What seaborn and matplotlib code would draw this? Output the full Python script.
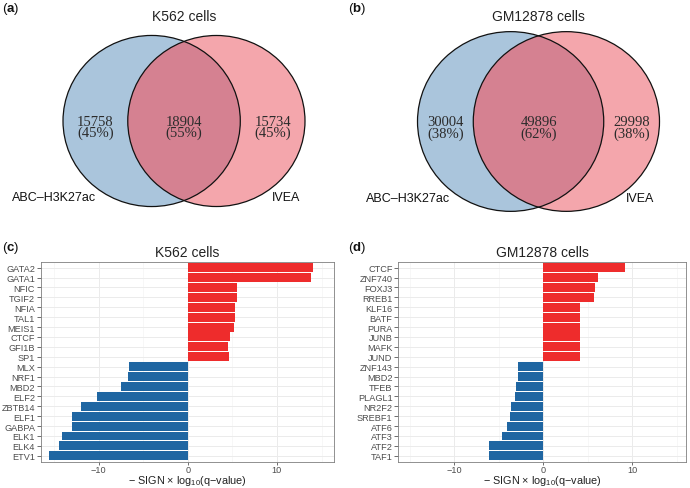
import numpy as np
import pandas as pd
import matplotlib
matplotlib.use('Agg')
import matplotlib.pyplot as plt
from matplotlib.patches import Ellipse
import seaborn as sns

# Venn counts (only A, both, only B)
k562_venn = [15758, 18904, 15734]
gm_venn = [30004, 49896, 29998]
set_names = ['ABC\u2013H3K27ac', 'IVEA']

# TF enrichment, -SIGN x log10(q-value)
k562_tf = ['GATA2', 'GATA1', 'NFIC', 'TGIF2', 'NFIA', 'TAL1', 'MEIS1', 'CTCF', 'GFI1B', 'SP1',
           'MLX', 'NRF1', 'MBD2', 'ELF2', 'ZBTB14', 'ELF1', 'GABPA', 'ELK1', 'ELK4', 'ETV1']
k562_val = [14.1, 13.85, 5.57, 5.5, 5.3, 5.3, 5.17, 4.75, 4.5, 4.63,
            -6.6, -6.74, -7.5, -10.2, -12.0, -12.97, -13.0, -14.1, -14.5, -15.6]

gm_tf = ['CTCF', 'ZNF740', 'FOXJ3', 'RREB1', 'KLF16', 'BATF', 'PURA', 'JUNB', 'MAFK', 'JUND',
         'ZNF143', 'MBD2', 'TFEB', 'PLAGL1', 'NR2F2', 'SREBF1', 'ATF6', 'ATF3', 'ATF2', 'TAF1']
gm_val = [9.14, 6.15, 5.85, 5.7, 4.12, 4.1, 4.1, 4.1, 4.08, 4.1,
          -2.84, -2.88, -3.03, -3.18, -3.63, -3.7, -4.08, -4.67, -6.1, -6.1]

sns.set_style('white')
plt.rcParams['font.family'] = ['Liberation Sans', 'DejaVu Sans']
plt.rcParams['mathtext.fontset'] = 'custom'
plt.rcParams['mathtext.rm'] = 'Liberation Sans'
plt.rcParams['mathtext.bf'] = 'Liberation Sans:bold'

RED = '#ee2c2c'
BLUE = '#1f66a2'
C_LEFT = '#aac5dc'
C_RIGHT = '#f4a6ac'
C_BOTH = '#d58191'

fig = plt.figure(figsize=(6.9, 4.89), dpi=100)

# overlay axes in pixel coordinates for the venn diagrams and panel letters
top = fig.add_axes([0, 0, 1, 1])
top.set_xlim(0, 690)
top.set_ylim(489, 0)
top.axis('off')


def lens_area(d, r1, r2):
    if d >= r1 + r2:
        return 0.0
    if d <= abs(r1 - r2):
        return np.pi * min(r1, r2) ** 2
    a1 = r1 ** 2 * np.arccos((d ** 2 + r1 ** 2 - r2 ** 2) / (2 * d * r1))
    a2 = r2 ** 2 * np.arccos((d ** 2 + r2 ** 2 - r1 ** 2) / (2 * d * r2))
    k = 0.5 * np.sqrt((-d + r1 + r2) * (d + r1 - r2) * (d - r1 + r2) * (d + r1 + r2))
    return a1 + a2 - k


def venn(counts, title, cx0, cy, width=242, squish=0.965):
    a_only, both, b_only = counts
    r1 = np.sqrt((a_only + both) / np.pi)
    r2 = np.sqrt((b_only + both) / np.pi)
    lo, hi = abs(r1 - r2) + 1e-9, r1 + r2
    for _ in range(80):
        mid = (lo + hi) / 2
        if lens_area(mid, r1, r2) > both:
            lo = mid
        else:
            hi = mid
    d = (lo + hi) / 2
    s = width / (r1 + d + r2)
    r1, r2, d = r1 * s, r2 * s, d * s
    x1 = cx0 - width / 2 + r1
    x2 = x1 + d

    left = Ellipse((x1, cy), 2 * r1, 2 * r1 * squish, facecolor=C_LEFT, edgecolor='none')
    right = Ellipse((x2, cy), 2 * r2, 2 * r2 * squish, facecolor=C_RIGHT, edgecolor='none')
    top.add_patch(left)
    top.add_patch(right)
    lens = Ellipse((x2, cy), 2 * r2, 2 * r2 * squish, facecolor=C_BOTH, edgecolor='none')
    top.add_patch(lens)
    lens.set_clip_path(left)
    for x, r in [(x1, r1), (x2, r2)]:
        top.add_patch(Ellipse((x, cy), 2 * r, 2 * r * squish, facecolor='none',
                              edgecolor='#111111', lw=0.9))

    tot_a = a_only + both
    tot_b = b_only + both
    pcts = [a_only / tot_a, both / tot_a, b_only / tot_b]
    xs = [(x1 - r1 + x2 - r2) / 2, (x2 - r2 + x1 + r1) / 2, (x1 + r1 + x2 + r2) / 2]
    for x, n, p in zip(xs, counts, pcts):
        top.text(x, cy + 6, f'{n}\n({round(p * 100):.0f}%)', ha='center', va='center',
                 family=['Liberation Serif', 'DejaVu Serif'], fontsize=10.5,
                 linespacing=0.85, color='#2b2b2b')
    top.text(x1 - 1.1 * r1, cy + 76, set_names[0], ha='center', va='center',
             fontsize=9, color='#111111')
    top.text(x2 + 0.79 * r2, cy + 76, set_names[1], ha='center', va='center',
             fontsize=9, color='#111111')
    top.text(cx0, 17, title, ha='center', va='center', fontsize=10, color='#222222')


venn(k562_venn, 'K562 cells', 184, 122)
venn(gm_venn, 'GM12878 cells', 538.5, 122.5)

for lab, x, y in [('a', 2, 9), ('b', 348, 9), ('c', 2, 248), ('d', 348, 248)]:
    top.text(x, y, rf'($\mathbf{{{lab}}}$)', ha='left', va='center', fontsize=9.5, color='#111111')


def bars(rect, tfs, vals, title, xlim):
    ax = fig.add_axes(rect)
    df = pd.DataFrame({'tf': tfs, 'val': vals})
    df['dir'] = np.where(df['val'] > 0, 'up', 'down')
    sns.barplot(data=df, x='val', y='tf', hue='dir', order=tfs, hue_order=['up', 'down'],
                palette={'up': RED, 'down': BLUE}, dodge=False, width=0.9,
                saturation=1, legend=False, ax=ax, linewidth=0)
    ax.set_xlim(*xlim)
    ax.set_ylim(len(tfs) - 1 + 0.6, -0.6)
    ax.set_xticks([-10, 0, 10])
    ax.set_xticks([-15, -5, 5, 15], minor=True)
    ax.grid(True, which='major', color='#ebebeb', lw=0.7, zorder=0)
    ax.xaxis.grid(True, which='minor', color='#f2f2f2', lw=0.4)
    ax.set_axisbelow(True)
    ax.tick_params(axis='both', which='major', length=2.6, width=0.5, color='#333333',
                   labelsize=6.6, labelcolor='#4d4d4d', pad=1.5, direction='out',
                   bottom=True, left=True)
    ax.tick_params(axis='x', which='major', length=2.2, pad=0.3)
    ax.tick_params(which='minor', length=0)
    for sp in ax.spines.values():
        sp.set_visible(True)
        sp.set_color('#7f7f7f')
        sp.set_linewidth(0.6)
    ax.set_ylabel('')
    ax.set_xlabel('\u2212 SIGN \u00d7 log$_{10}$(q\u2212value)', fontsize=7.8,
                  color='#222222', va='center')
    ax.xaxis.set_label_coords(0.5, -18.0 / 200)
    ax.set_title(title, fontsize=10, color='#222222', pad=4)
    return ax


bars([40.7 / 690, 1 - 462.7 / 489, 293.3 / 690, 200 / 489], k562_tf, k562_val,
     'K562 cells', (-16.5, 16.4))
bars([398.3 / 690, 1 - 462.7 / 489, 287.7 / 690, 200 / 489], gm_tf, gm_val,
     'GM12878 cells', (-16.3, 16.05))

plt.savefig('out.png', dpi=100)
